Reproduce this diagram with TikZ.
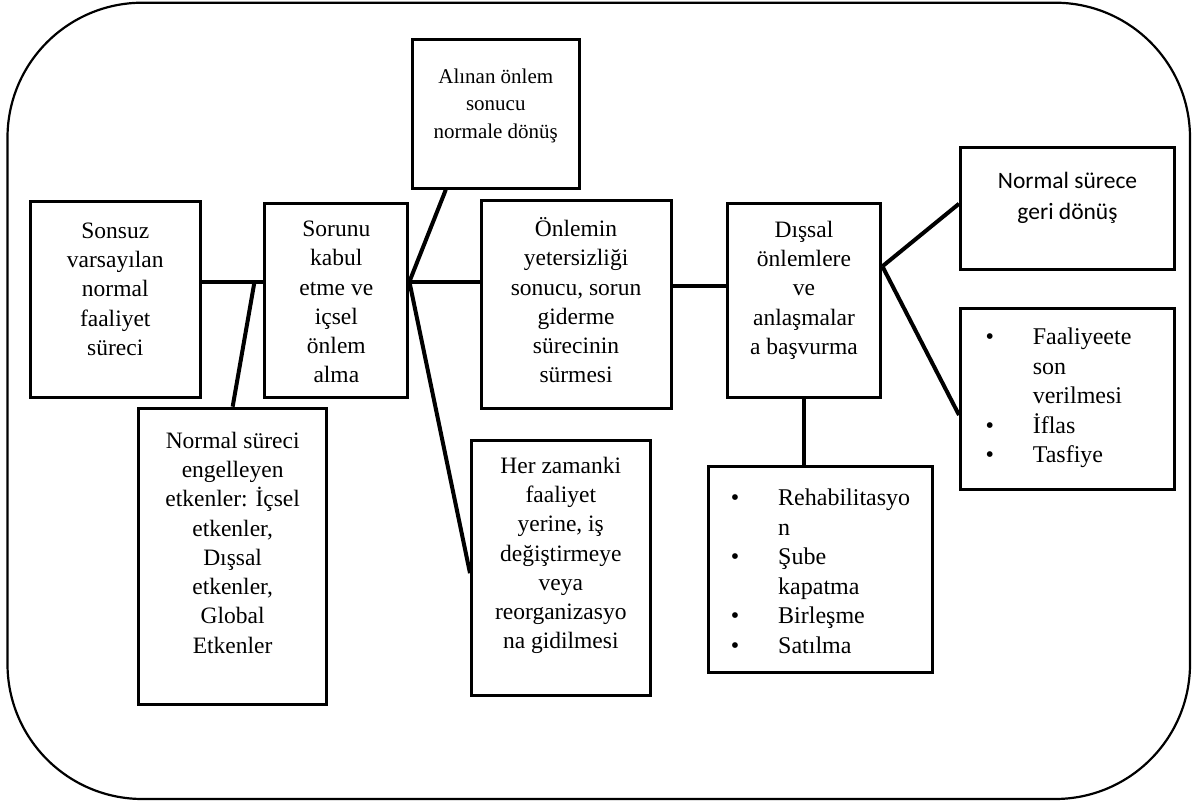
\documentclass[tikz,border=0pt]{standalone}
\usepackage{fontspec}
\setmainfont{Liberation Serif}
\newfontfamily\calibrifont{Carlito}

\begin{document}
\begin{tikzpicture}[
x=1pt, y=-1pt,
stage/.style={
rectangle,
anchor=north west,
inner sep=0pt,
line width=3pt,
draw=black,
font=\fontsize{23.5}{29.3}\selectfont
},
listbox/.style={
stage,
font=\fontsize{24}{29.5}\selectfont
},
note/.style={
stage,
font=\fontsize{21}{27.5}\selectfont
},
sanstext/.style={
stage,
font=\calibrifont\fontsize{23.5}{31}\selectfont
},
link/.style={
line width=4pt
},
roundframe/.style={
line width=2.2pt,
rounded corners=135pt
}]

\useasboundingbox (0,0) rectangle (1195,802);
\draw[roundframe] (7.5,2.7) rectangle (1190,799);

\node[stage, minimum width=169.5pt, text height=36.7pt, text depth=159.3pt] (sonsuz) at (29,200) {\begin{tabular}[t]{c}
Sonsuz\\ varsayılan\\ normal\\ faaliyet\\ süreci
\end{tabular}};

\node[stage, minimum width=143.1pt, text height=33pt, text depth=161pt] (sorunu) at (263.3,202) {\begin{tabular}[t]{c}
Sorunu\\ kabul\\ etme ve\\ içsel\\ önlem\\ alma
\end{tabular}};

\node[note, minimum width=167.4pt, text height=43.4pt, text depth=105pt] (alinan) at (410.6,38.3) {\begin{tabular}[t]{c}
Alınan önlem\\ sonucu\\ normale dönüş
\end{tabular}};

\node[stage, minimum width=190.1pt, text height=35.7pt, text depth=172.3pt] (onlemin) at (479.5,199.3) {\begin{tabular}[t]{c}
Önlemin\\ yetersizliği\\ sonucu, sorun\\ giderme\\ sürecinin\\ sürmesi
\end{tabular}};

\node[stage, minimum width=153.9pt, text height=34pt, text depth=160.3pt] (dissal) at (725.5,201.7) {\begin{tabular}[t]{c}
Dışsal\\ önlemlere\\ ve\\ anlaşmalar\\ a başvurma
\end{tabular}};

\node[sanstext, minimum width=214pt, text height=40.7pt, text depth=81.8pt] (nsurece) at (959,146) {\begin{tabular}[t]{c}
Normal sürece\\ geri dönüş
\end{tabular}};

\node[listbox, minimum width=214pt, text height=36.6pt, text depth=145pt] (faaliyet) at (959,306.7) {\begin{tabular}[t]{@{\hspace{25pt}}p{47.3pt}@{}p{141.7pt}@{}}
\textbullet & Faaliyeete\\ & son\\ & verilmesi\\
\textbullet & İflas\\
\textbullet & Tasfiye
\end{tabular}};

\node[listbox, minimum width=223.7pt, text height=39.3pt, text depth=166.4pt] (rehab) at (707.3,465) {\begin{tabular}[t]{@{\hspace{22pt}}p{47.4pt}@{}p{154.3pt}@{}}
\textbullet & Rehabilitasyo\\ & n\\
\textbullet & Şube\\ & kapatma\\
\textbullet & Birleşme\\
\textbullet & Satılma
\end{tabular}};

\node[stage, minimum width=178.6pt, text height=32.4pt, text depth=222.3pt] (herzaman) at (470,439.3) {\begin{tabular}[t]{c}
Her zamanki\\ faaliyet\\ yerine, iş\\ değiştirmeye\\ veya\\ reorganizasyo\\ na gidilmesi
\end{tabular}};

\node[stage, minimum width=188.3pt, text height=40pt, text depth=256pt] (nsureci) at (137,406.7) {\begin{tabular}[t]{c}
Normal süreci\\ engelleyen\\ etkenler: İçsel\\ etkenler,\\ Dışsal\\ etkenler,\\ Global\\ Etkenler
\end{tabular}};

\coordinate (cross1) at (254.5,281.7);
\coordinate (cross2) at (sorunu.east |- cross1);
\coordinate (cross3) at ([yshift=14pt]dissal.west);
\coordinate (fork) at ([yshift=34pt]dissal.east);

\draw[link] (sonsuz.east |- cross1) -- (sorunu.west |- cross1);
\draw[link] (cross1) -- (nsureci.north);

\draw[link] (cross2) -- (onlemin.west |- cross2);
\draw[link] (cross2) -- ([xshift=35.2pt]alinan.south west);
\draw[link] (cross2) -- ([yshift=-5pt]herzaman.west);

\draw[link] (onlemin.east |- cross3) -- (cross3);

\draw[link] (fork) -- ([yshift=5pt]nsurece.west);
\draw[link] (fork) -- ([yshift=-16pt]faaliyet.west);
\draw[link] (dissal.south) -- (dissal.south |- rehab.north);

\end{tikzpicture}
\end{document}
